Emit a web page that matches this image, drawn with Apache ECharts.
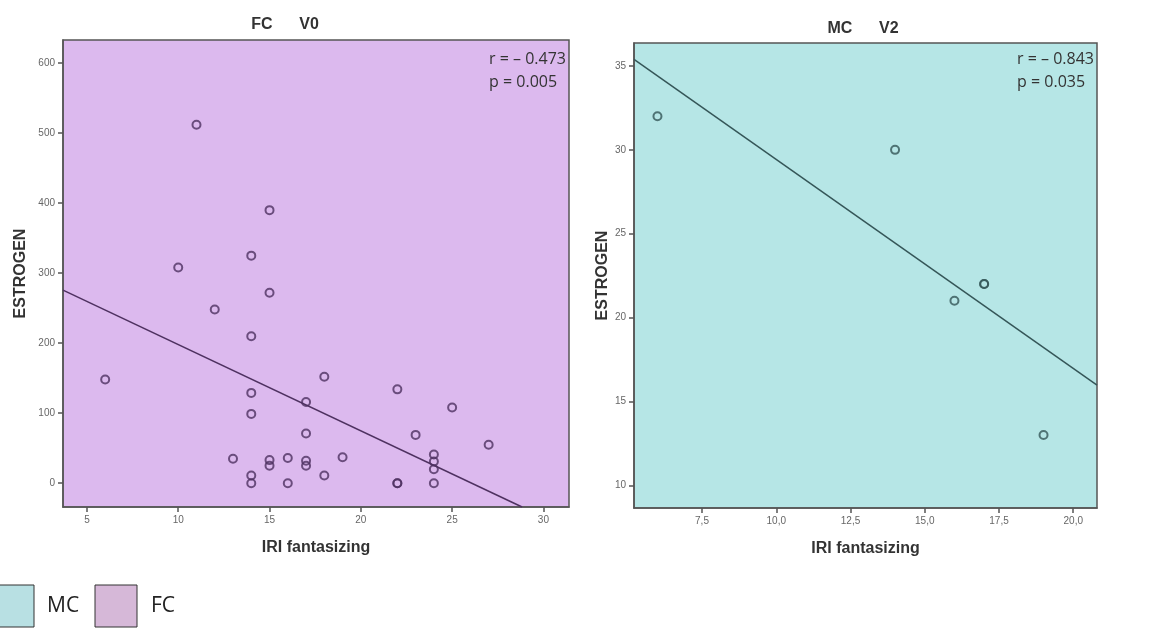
<!DOCTYPE html>
<html>
<head>
<meta charset="utf-8">
<script src="https://cdn.jsdelivr.net/npm/echarts@6/dist/echarts.min.js"></script>
<style>
  html, body { margin: 0; padding: 0; background: #ffffff; }
  #chart { width: 1161px; height: 630px; }
</style>
</head>
<body>
<div id="chart"></div>
<script>
// FC group, visit V0: IRI fantasizing vs estrogen
const fcFantasizing = [11, 15, 14, 10, 15, 12, 14, 6, 14, 14, 13, 15, 15, 16, 14, 14, 16,
  18, 17, 17, 17, 17, 18, 19, 22, 25, 23, 24, 24, 24, 24, 22, 22, 27];
const fcEstrogen = [512, 390, 325, 308, 272, 248, 210, 148, 129, 99, 35, 33, 25, 36, 11, 0, 0,
  152, 116, 71, 32, 25, 11, 37, 134, 108, 69, 41, 31, 20, 0, 0, 0, 55];
// fitted line endpoints (x, y)
const fcFitX = [3.69, 28.83];
const fcFitY = [275.7, -34];

// MC group, visit V2
const mcFantasizing = [6, 14, 16, 17, 17, 19];
const mcEstrogen = [32, 30, 21, 22, 22, 13];
const mcFitX = [5.21, 20.8];
const mcFitY = [35.4, 15.97];

// tick values
const fcXTicks = [5, 10, 15, 20, 25, 30];
const fcYTicks = [0, 100, 200, 300, 400, 500, 600];
const mcXTicks = [7.5, 10, 12.5, 15, 17.5, 20];
const mcYTicks = [10, 15, 20, 25, 30, 35];

const stats = {
  fc: ['r = \u2013 0.473', 'p = 0.005'],
  mc: ['r = \u2013 0.843', 'p = 0.035']
};

const pairs = (xs, ys) => xs.map((x, i) => [x, ys[i]]);

const FC_BG = '#dcb9ee';
const MC_BG = '#b6e6e6';
const FC_INK = '#4e3160';
const MC_INK = '#355658';

function axisCommon(ticks, fmt) {
  return {
    type: 'value',
    splitLine: { show: false },
    axisLine: { show: true, onZero: false, lineStyle: { color: '#555', width: 1.5 } },
    axisTick: { show: true, customValues: ticks, length: 5, lineStyle: { color: '#555', width: 1.5 } },
    axisLabel: {
      customValues: ticks, color: '#666', fontSize: 10, fontFamily: 'Liberation Sans',
      formatter: fmt || (v => String(v))
    }
  };
}
const nameStyle = { fontFamily: 'Liberation Sans', fontWeight: 'bold', fontSize: 16, color: '#333' };
const commaFmt = v => v.toFixed(1).replace('.', ',');

const option = {
  animation: false,
  title: [
    { text: 'FC      V0', left: 280, top: 12, textAlign: 'center',
      textStyle: { fontFamily: 'Liberation Sans', fontWeight: 'bold', fontSize: 16, color: '#333' } },
    { text: 'MC      V2', left: 858, top: 16, textAlign: 'center',
      textStyle: { fontFamily: 'Liberation Sans', fontWeight: 'bold', fontSize: 16, color: '#333' } }
  ],
  grid: [
    { left: 63, top: 40, right: 592, bottom: 123, show: true, backgroundColor: FC_BG,
      borderColor: '#555', borderWidth: 1.5 },
    { left: 634, top: 43, right: 64, bottom: 122, show: true, backgroundColor: MC_BG,
      borderColor: '#555', borderWidth: 1.5 }
  ],
  xAxis: [
    Object.assign(axisCommon(fcXTicks), { gridIndex: 0, min: 3.69, max: 31.4,
      name: 'IRI fantasizing', nameLocation: 'middle', nameGap: 33, nameTextStyle: nameStyle }),
    Object.assign(axisCommon(mcXTicks, commaFmt), { gridIndex: 1, min: 5.21, max: 20.8,
      name: 'IRI fantasizing', nameLocation: 'middle', nameGap: 33, nameTextStyle: nameStyle })
  ],
  yAxis: [
    Object.assign(axisCommon(fcYTicks), { gridIndex: 0, min: -34, max: 633,
      name: 'ESTROGEN', nameLocation: 'middle', nameGap: 34, nameTextStyle: nameStyle }),
    Object.assign(axisCommon(mcYTicks), { gridIndex: 1, min: 8.65, max: 36.37,
      name: 'ESTROGEN', nameLocation: 'middle', nameGap: 20, nameTextStyle: nameStyle })
  ],
  series: [
    { type: 'line', xAxisIndex: 0, yAxisIndex: 0, data: pairs(fcFitX, fcFitY), symbol: 'none',
      lineStyle: { color: FC_INK, width: 1.5 }, silent: true, z: 2 },
    { type: 'scatter', xAxisIndex: 0, yAxisIndex: 0, data: pairs(fcFantasizing, fcEstrogen),
      symbol: 'circle', symbolSize: 8,
      itemStyle: { color: 'rgba(0,0,0,0)', borderColor: FC_INK, borderWidth: 2 }, z: 3 },
    { type: 'line', xAxisIndex: 1, yAxisIndex: 1, data: pairs(mcFitX, mcFitY), symbol: 'none',
      lineStyle: { color: MC_INK, width: 1.5 }, silent: true, z: 2 },
    { type: 'scatter', xAxisIndex: 1, yAxisIndex: 1, data: pairs(mcFantasizing, mcEstrogen),
      symbol: 'circle', symbolSize: 8,
      itemStyle: { color: 'rgba(0,0,0,0)', borderColor: MC_INK, borderWidth: 2 }, z: 3 }
  ],
  graphic: [
    { type: 'text', right: 1161 - 566, top: 48, z: 10,
      style: { text: stats.fc.join('\n'), fill: '#333', font: '16px "Open Sans"', lineHeight: 23, align: 'left' } },
    { type: 'text', right: 1161 - 1094, top: 48, z: 10,
      style: { text: stats.mc.join('\n'), fill: '#333', font: '16px "Open Sans"', lineHeight: 23, align: 'left' } },
    // colour key
    { type: 'rect', shape: { x: -8, y: 585, width: 42, height: 42 },
      style: { fill: '#b8e0e3', stroke: '#333', lineWidth: 1 } },
    { type: 'text', x: 47, y: 606,
      style: { text: 'MC', fill: '#222', font: '21px "Open Sans"', verticalAlign: 'middle' } },
    { type: 'rect', shape: { x: 95, y: 585, width: 42, height: 42 },
      style: { fill: '#d6b8d8', stroke: '#333', lineWidth: 1 } },
    { type: 'text', x: 151, y: 606,
      style: { text: 'FC', fill: '#222', font: '21px "Open Sans"', verticalAlign: 'middle' } }
  ]
};

echarts.init(document.getElementById('chart')).setOption(option);
</script>
</body>
</html>
